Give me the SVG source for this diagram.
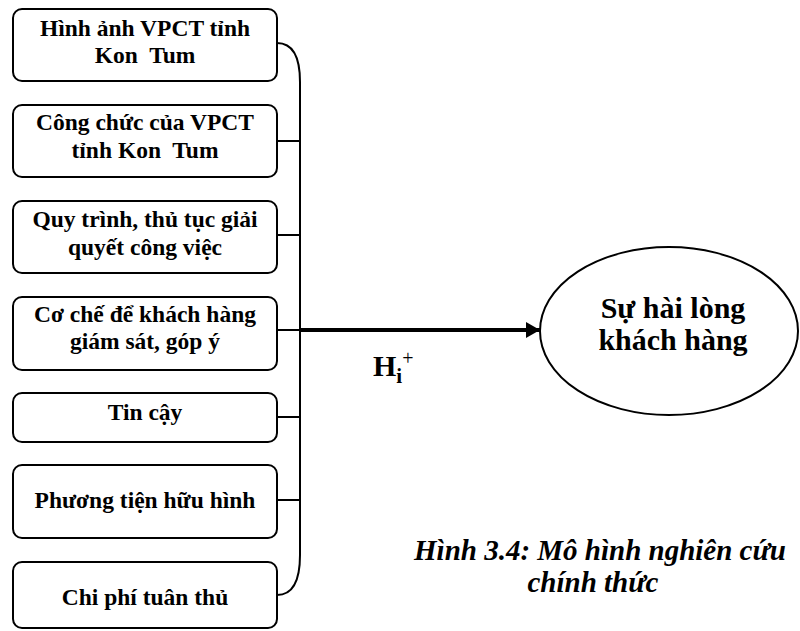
<svg xmlns="http://www.w3.org/2000/svg" width="800" height="631" viewBox="0 0 800 631">
<defs>
<style>
.box{fill:#fff;stroke:#000;stroke-width:2}
.t{font-family:"Liberation Serif","Times New Roman",serif;font-weight:bold;font-size:23.5px;text-anchor:middle;fill:#000;white-space:pre}
.big{font-family:"Liberation Serif","Times New Roman",serif;font-weight:bold;font-size:30px;fill:#000}
.cap{font-family:"Liberation Serif","Times New Roman",serif;font-weight:bold;font-style:italic;font-size:29px;text-anchor:middle;fill:#000}
.ln{fill:none;stroke:#000;stroke-width:2}
</style>
<marker id="ah" markerWidth="14" markerHeight="16" refX="14" refY="8" orient="auto" markerUnits="userSpaceOnUse">
<path d="M0,0 L14,8 L0,16 Z" fill="#000"/>
</marker>
</defs>
<rect width="800" height="631" fill="#fff"/>
<g id="connectors">
<path class="ln" d="M277,43 C293,43 300,58 300,82 L300,555 C300,580 293,595 277,595"/>
<line class="ln" x1="277" y1="141" x2="300" y2="141"/>
<line class="ln" x1="277" y1="235" x2="300" y2="235"/>
<line class="ln" x1="277" y1="330" x2="300" y2="330"/>
<line class="ln" x1="277" y1="417" x2="300" y2="417"/>
<line class="ln" x1="277" y1="500" x2="300" y2="500"/>
<line x1="300" y1="330" x2="540" y2="330" stroke="#000" stroke-width="4" marker-end="url(#ah)"/>
<text class="big" x="373" y="376">H<tspan font-size="21" dy="7">i</tspan><tspan font-size="20" font-weight="normal" dy="-18">+</tspan></text>
</g>
<g id="n1"><rect class="box" x="13" y="9" width="264" height="72" rx="9"/><text class="t" x="145" y="36">Hình ảnh VPCT tỉnh</text><text class="t" x="145" y="63" xml:space="preserve">Kon  Tum</text></g>
<g id="n2"><rect class="box" x="13" y="105" width="264" height="72" rx="9"/><text class="t" x="145" y="130">Công chức của VPCT</text><text class="t" x="145" y="158" xml:space="preserve">tỉnh Kon  Tum</text></g>
<g id="n3"><rect class="box" x="13" y="201" width="264" height="72" rx="9"/><text class="t" x="145" y="227">Quy trình, thủ tục giải</text><text class="t" x="145" y="255">quyết công việc</text></g>
<g id="n4"><rect class="box" x="13" y="297" width="264" height="73" rx="9"/><text class="t" x="145" y="322">Cơ chế để khách hàng</text><text class="t" x="145" y="349">giám sát, góp ý</text></g>
<g id="n5"><rect class="box" x="13" y="393" width="264" height="49" rx="9"/><text class="t" x="145" y="420">Tin cậy</text></g>
<g id="n6"><rect class="box" x="13" y="465" width="264" height="73" rx="9"/><text class="t" x="145" y="508">Phương tiện hữu hình</text></g>
<g id="n7"><rect class="box" x="13" y="562" width="264" height="66" rx="9"/><text class="t" x="145" y="605">Chi phí tuân thủ</text></g>
<g id="target"><ellipse cx="669" cy="331" rx="129" ry="84" fill="#fff" stroke="#000" stroke-width="2"/>
<text class="big" x="673" y="318" text-anchor="middle">Sự hài lòng</text><text class="big" x="673" y="350" text-anchor="middle">khách hàng</text></g>
<g id="caption"><text class="cap" x="600" y="560">Hình 3.4: Mô hình nghiên cứu</text><text class="cap" x="593" y="592">chính thức</text></g>
</svg>
